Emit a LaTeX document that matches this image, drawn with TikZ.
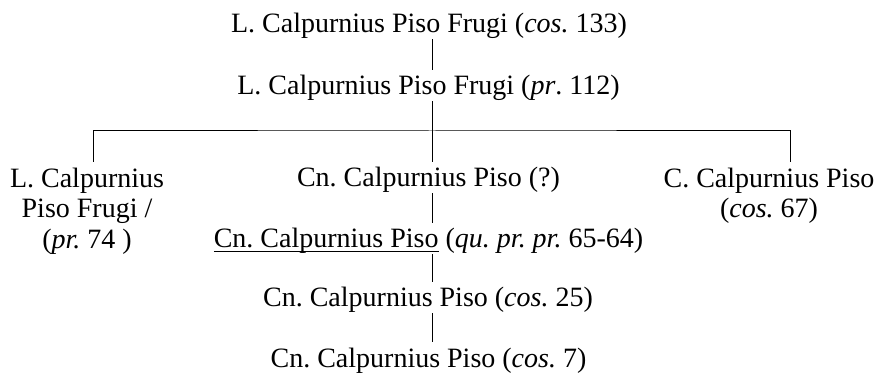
\documentclass[tikz,border=0pt]{standalone}
\usepackage{fontspec}
\setmainfont{Liberation Serif}
\frenchspacing
\newcommand\myul[1]{\setbox0\hbox{#1}\rlap{\rule[-4pt]{\wd0}{0.9pt}}\box0\relax}
\begin{document}
\begin{tikzpicture}[x=1pt,y=1pt,
  lbl/.style={inner sep=0pt, font=\fontsize{28pt}{30.5pt}\selectfont},
  one/.style={lbl, anchor=base, text height=25pt, text depth=6pt},
  multi/.style={lbl, anchor=north, align=center},
  link/.style={line width=1pt}]
\useasboundingbox (0,0) rectangle (887,-374);
\coordinate (spine) at (432,0);
\coordinate (hl) at (432,-131);
\node[one] (a) at (429,-33) {L. Calpurnius Piso Frugi (\textit{cos.} 133)};
\node[one] (b) at (428.5,-95) {L. Calpurnius Piso Frugi (\textit{pr}. 112)};
\node[one] (c) at (428.5,-187) {Cn. Calpurnius Piso (?)};
\node[one] (d) at (428.5,-248) {\myul{Cn. Calpurnius Piso} (\textit{qu. pr. pr.} 65-64)};
\node[one] (e) at (428,-307) {Cn. Calpurnius Piso (\textit{cos.} 25)};
\node[one] (f) at (428.5,-367) {Cn. Calpurnius Piso (\textit{cos.} 7)};
\node[multi] (l) at (87,-162) {\rule{0pt}{25pt}L. Calpurnius\\Piso Frugi /\\(\textit{pr.} 74 )};
\node[multi] (r) at (769,-162) {\rule{0pt}{25pt}C. Calpurnius Piso\\(\textit{cos.} 67)};
\draw[link] (a.south -| spine) -- (b.north -| spine);
\draw[link] (b.south -| spine) -- (c.north -| spine);
\draw[link] (c.south -| spine) -- (d.north -| spine);
\draw[link] (d.south -| spine) -- (e.north -| spine);
\draw[link] (e.south -| spine) -- (f.north -| spine);
\draw[link] ([xshift=6pt]l.north) |- (hl) -| ([xshift=21pt]r.north);
\end{tikzpicture}
\end{document}
